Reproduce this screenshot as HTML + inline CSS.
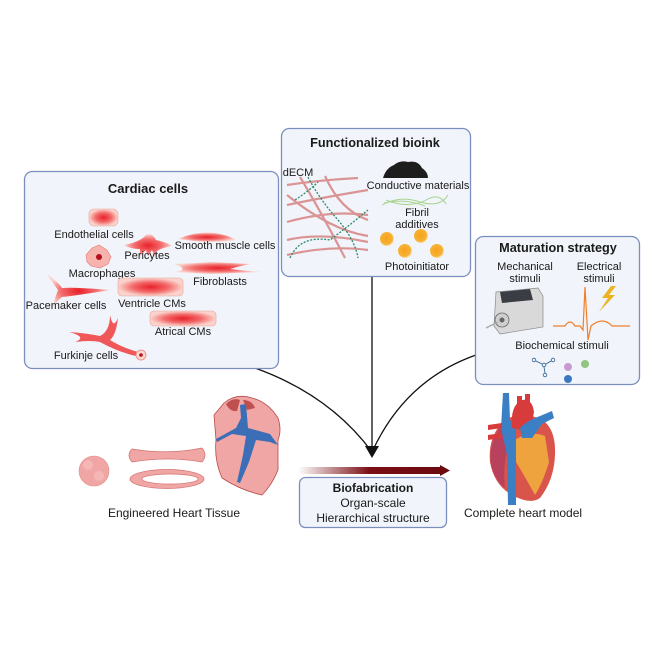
<!DOCTYPE html>
<html><head><meta charset="utf-8"><style>
html,body{margin:0;padding:0;background:#fff}
svg{display:block}
text{font-family:"Liberation Sans",Arial,sans-serif;fill:#1a1a1a}
</style></head><body>
<svg width="664" height="664" viewBox="0 0 664 664" xmlns="http://www.w3.org/2000/svg">
<defs>
<radialGradient id="cell" cx="50%" cy="50%" r="50%">
<stop offset="0" stop-color="#e8202a"/><stop offset="0.55" stop-color="#f26a6a"/><stop offset="1" stop-color="#fbd3cc"/>
</radialGradient>
<linearGradient id="arr" x1="0" x2="1"><stop offset="0" stop-color="#7a0e14" stop-opacity="0"/><stop offset="0.5" stop-color="#7a0e14"/><stop offset="1" stop-color="#6d0a10"/></linearGradient>
<radialGradient id="orb" cx="45%" cy="45%" r="55%"><stop offset="0" stop-color="#f7a21b"/><stop offset="0.8" stop-color="#f5b236"/><stop offset="1" stop-color="#fde3a8"/></radialGradient>
</defs>

<!-- connectors -->
<path d="M255 368 Q330 395 372 452" fill="none" stroke="#111" stroke-width="1.3"/>
<path d="M476 355 Q405 380 372 452" fill="none" stroke="#111" stroke-width="1.3"/>
<line x1="372" y1="277" x2="372" y2="448" stroke="#111" stroke-width="1.3"/>
<polygon points="365,446 379,446 372,458" fill="#111"/>

<!-- Cardiac cells box -->
<rect x="24.5" y="171.5" width="254" height="197" rx="8" fill="#f1f4fa" stroke="#7b8fbf" stroke-width="1.3"/>
<text x="148" y="193" font-size="13" font-weight="bold" text-anchor="middle" fill="#111">Cardiac cells</text>
<rect x="89" y="209" width="29" height="17" rx="5" fill="url(#cell)" stroke="#e9a49a" stroke-width="0.6"/>
<text x="94" y="238" font-size="11" text-anchor="middle">Endothelial cells</text>
<path d="M124 245 Q140 242 146 235 Q152 232 156 240 Q166 242 172 246 Q160 248 156 252 L155 257 L152 250 L148 257 L146 250 L140 256 L140 249 Q130 249 124 245Z" fill="url(#cell)"/>
<text x="147" y="259" font-size="11" text-anchor="middle">Pericytes</text>
<path d="M178 239 Q195 231 215 233 Q228 235 236 240 Q210 244 178 239Z" fill="url(#cell)"/>
<text x="225" y="249" font-size="11" text-anchor="middle">Smooth muscle cells</text>
<path d="M86 255 L92 248 L99 245 L107 250 L111 257 L108 264 L100 268 L91 266 L87 262Z" fill="#f6b3ad" stroke="#e57d77" stroke-width="0.6"/>
<circle cx="99" cy="257" r="3" fill="#b5111a"/>
<text x="102" y="277" font-size="11" text-anchor="middle">Macrophages</text>
<path d="M174 264 Q200 263 210 262 Q232 263 250 264 Q240 266 230 269 Q245 271 262 272 Q235 273 210 274 Q190 273 176 272 Q190 269 174 264Z" fill="url(#cell)"/>
<text x="220" y="285" font-size="11" text-anchor="middle">Fibroblasts</text>
<path d="M47 274 Q58 282 62 288 Q75 287 110 290 Q80 295 62 297 Q55 303 52 308 Q55 298 58 290 Q52 282 47 274Z" fill="url(#cell)"/>
<text x="66" y="309" font-size="11" text-anchor="middle">Pacemaker cells</text>
<rect x="118" y="278" width="65" height="18" rx="4" fill="url(#cell)" stroke="#e9a49a" stroke-width="0.6"/>
<text x="152" y="307" font-size="11" text-anchor="middle">Ventricle CMs</text>
<rect x="150" y="311" width="66" height="15" rx="4" fill="url(#cell)" stroke="#e9a49a" stroke-width="0.6"/>
<text x="183" y="335" font-size="11" text-anchor="middle">Atrical CMs</text>
<path d="M69 332 Q85 333 100 336 Q110 331 110 315 Q113 330 118 318 Q116 335 110 340 Q123 348 138 352 L136 356 Q118 352 100 342 Q90 340 75 342 Q88 337 69 332Z" fill="#ef3b3b" opacity="0.85"/>
<circle cx="141" cy="355" r="5" fill="#fbd6cf" stroke="#e98a82" stroke-width="0.8"/>
<circle cx="141" cy="355" r="1.8" fill="#b5111a"/>
<text x="86" y="359" font-size="11" text-anchor="middle">Furkinje cells</text>

<!-- Functionalized bioink -->
<rect x="281.5" y="128.5" width="189" height="148" rx="8" fill="#f1f4fa" stroke="#7b8fbf" stroke-width="1.3"/>
<text x="375" y="147" font-size="12.7" font-weight="bold" text-anchor="middle" fill="#111">Functionalized bioink</text>
<text x="298" y="176" font-size="11" text-anchor="middle">dECM</text>
<g stroke="#d98a8a" stroke-width="2.2" fill="none" opacity="0.9">
<path d="M287 185 Q320 180 358 178"/><path d="M287 205 Q320 198 368 190"/><path d="M287 222 Q330 210 368 215"/>
<path d="M287 240 Q320 232 368 242"/><path d="M287 255 Q330 245 368 250"/><path d="M300 177 Q320 210 345 258"/>
<path d="M287 195 Q330 230 368 236"/><path d="M325 176 Q340 210 368 220"/>
</g>
<g stroke="#2a8a6a" stroke-width="1.3" fill="none" stroke-dasharray="2 1.5">
<path d="M308 177 Q320 200 338 220 Q355 240 358 258"/><path d="M290 258 Q300 235 330 240 Q350 225 368 210"/><path d="M295 200 Q310 190 318 182"/>
</g>
<path d="M383 178 Q386 168 394 165 Q400 160 408 162 Q418 160 422 168 Q428 172 428 178 Z" fill="#1d1d1d"/>
<text x="418" y="189" font-size="11" text-anchor="middle">Conductive materials</text>
<g stroke="#a6d48e" stroke-width="1" fill="none">
<path d="M382 205 Q400 195 420 202 Q440 208 448 195"/><path d="M386 200 Q410 210 430 198 Q440 194 446 204"/><path d="M384 203 Q405 198 425 206"/>
</g>
<text x="417" y="216" font-size="11" text-anchor="middle">Fibril</text>
<text x="417" y="228" font-size="11" text-anchor="middle">additives</text>
<circle cx="387" cy="239" r="7" fill="url(#orb)"/><circle cx="421" cy="236" r="7" fill="url(#orb)"/>
<circle cx="405" cy="251" r="7" fill="url(#orb)"/><circle cx="437" cy="251" r="7" fill="url(#orb)"/>
<text x="417" y="270" font-size="11" text-anchor="middle">Photoinitiator</text>

<!-- Maturation strategy -->
<rect x="475.5" y="236.5" width="164" height="148" rx="8" fill="#f1f4fa" stroke="#7b8fbf" stroke-width="1.3"/>
<text x="558" y="252" font-size="12.7" font-weight="bold" text-anchor="middle" fill="#111">Maturation strategy</text>
<text x="525" y="270" font-size="11" text-anchor="middle">Mechanical</text>
<text x="525" y="282" font-size="11" text-anchor="middle">stimuli</text>
<text x="599" y="270" font-size="11" text-anchor="middle">Electrical</text>
<text x="599" y="282" font-size="11" text-anchor="middle">stimuli</text>
<path d="M496 292 L538 288 L543 296 L543 327 L500 334 L494 326Z" fill="#d9d9d9" stroke="#8a8a8a" stroke-width="0.7"/>
<path d="M500 292 L530 289 L533 300 L502 303Z" fill="#3a3d44"/>
<circle cx="502" cy="320" r="7" fill="#cfcfcf" stroke="#666" stroke-width="0.8"/>
<circle cx="502" cy="320" r="2.5" fill="#666"/>
<line x1="486" y1="328" x2="498" y2="322" stroke="#aaa" stroke-width="1.5"/>
<path d="M553 326 L565 326 Q570 318 575 326 L580 326 L583 330 L585 287 L588 340 L591 326 Q603 316 612 326 L630 326" fill="none" stroke="#f07f2a" stroke-width="1.2"/>
<path d="M611 286 L602 298 L608 298 L599 312 L615 295 L609 295 L616 286Z" fill="#eab423"/>
<text x="562" y="349" font-size="11" text-anchor="middle">Biochemical stimuli</text>
<g stroke="#2a5d8f" stroke-width="0.8" fill="none">
<circle cx="534" cy="360" r="1.8"/><circle cx="544" cy="365" r="1.8"/><circle cx="553" cy="360" r="1.8"/><circle cx="545" cy="375" r="1.8"/>
<path d="M536 361 L542 364 M546 364 L551 361 M544 367 L545 373"/>
</g>
<circle cx="568" cy="367" r="4" fill="#c99ad0"/><circle cx="585" cy="364" r="4" fill="#8fc57f"/><circle cx="568" cy="379" r="4" fill="#3b78c2"/>

<!-- Biofabrication -->
<rect x="298" y="467" width="143" height="7" fill="url(#arr)"/>
<polygon points="440,465 450,470.5 440,476" fill="#6d0a10"/>
<rect x="299.5" y="477.5" width="147" height="50" rx="6" fill="#f1f4fa" stroke="#7b8fbf" stroke-width="1.3"/>
<text x="373" y="492" font-size="12" font-weight="bold" text-anchor="middle" fill="#111">Biofabrication</text>
<text x="373" y="507" font-size="12" text-anchor="middle">Organ-scale</text>
<text x="373" y="522" font-size="12" text-anchor="middle">Hierarchical structure</text>

<!-- Engineered tissue -->
<circle cx="94" cy="471" r="15" fill="#f0a6a4" stroke="#e58f8d" stroke-width="0.6"/>
<circle cx="88" cy="465" r="5" fill="#f4b7b5"/><circle cx="99" cy="476" r="5" fill="#f4b7b5"/>
<path d="M132 449 Q168 455 202 448 Q208 455 202 462 Q168 456 132 462 Q126 455 132 449Z" fill="#f0a6a4" stroke="#d2716f" stroke-width="0.7"/>
<ellipse cx="167" cy="479" rx="37" ry="9.5" fill="#f0a6a4" stroke="#d2716f" stroke-width="0.7"/>
<ellipse cx="170" cy="479" rx="28" ry="5" fill="#ffffff" stroke="#d2716f" stroke-width="0.7"/>
<path d="M224 403 Q236 393 252 398 Q268 402 278 418 Q282 430 278 440 L278 470 Q272 485 262 495 Q240 490 222 478 Q214 460 216 440 L214 415Z" fill="#f0a6a4" stroke="#b74a4a" stroke-width="0.8"/>
<path d="M226 404 Q233 397 240 400 L237 411 Q230 412 226 404Z" fill="#c0504f"/>
<path d="M243 400 Q252 400 255 408 L247 410Z" fill="#c0504f"/>
<path d="M240 405 L246 404 L248 428 L270 434 L278 445 L270 442 L256 440 L249 462 L240 483 L237 482 L243 455 L246 436 L232 434 L217 442 L216 439 L236 428 L241 418Z" fill="#3b6eb7"/>
<text x="174" y="517" font-size="12" text-anchor="middle">Engineered Heart Tissue</text>

<!-- Complete heart -->
<path d="M500 425 Q488 440 490 462 Q494 485 512 495 Q530 505 540 498 Q554 480 555 455 Q556 432 545 422 Q530 412 515 416 Q505 418 500 425Z" fill="#d9554c"/>
<path d="M500 428 Q488 445 491 465 Q496 482 505 488 Q502 460 512 436Z" fill="#b8425e"/>
<path d="M515 440 Q530 430 545 436 L549 462 Q543 482 535 495 Q524 475 516 462Z" fill="#f2b23c" opacity="0.85"/>
<path d="M503 393 L509 393 L510 420 L516 424 L516 505 L508 505 L507 455 L501 428Z" fill="#3b7fc4"/>
<path d="M512 428 Q510 405 522 400 Q532 398 534 412 L530 432Z" fill="#d83b3b"/>
<path d="M517 396 L522 396 L522 408 L517 408Z M525 394 L530 394 L530 408 L525 408Z" fill="#d83b3b"/>
<path d="M488 425 L502 423 L502 428 L488 430Z M488 435 L502 433 L502 438 L488 440Z" fill="#d83b3b"/>
<path d="M520 428 Q528 420 540 416 L552 411 L554 418 L542 424 L532 438 L522 438Z" fill="#3b7fc4"/>
<text x="523" y="517" font-size="12" text-anchor="middle">Complete heart model</text>
</svg>
</body></html>
